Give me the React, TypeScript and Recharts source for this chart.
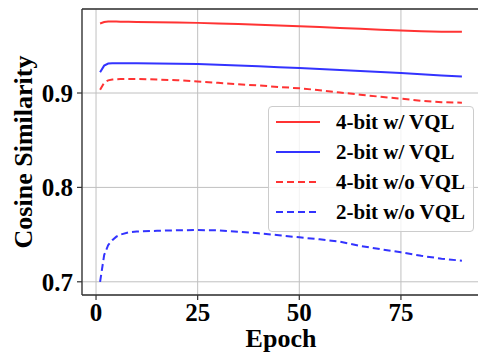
import React from 'react';
import { LineChart, Line, XAxis, YAxis, CartesianGrid, ReferenceLine } from 'recharts';

const epochs = [1, 2, 3, 4, 5, 6, 8, 10, 15, 20, 25, 30, 35, 40, 45, 50, 55, 60, 65, 70, 75, 80, 85, 90];
const bit4WithVQL = [0.9736, 0.9752, 0.9757, 0.9757, 0.9757, 0.9756, 0.9755, 0.9753, 0.975, 0.9747, 0.9743, 0.9737, 0.973, 0.9723, 0.9715, 0.9707, 0.9698, 0.9689, 0.968, 0.967, 0.9661, 0.9655, 0.965, 0.9648];
const bit2WithVQL = [0.9219, 0.929, 0.9312, 0.9315, 0.9316, 0.9316, 0.9315, 0.9314, 0.9312, 0.931, 0.9307, 0.93, 0.9292, 0.9283, 0.9274, 0.9265, 0.9255, 0.9244, 0.9233, 0.9222, 0.9212, 0.9198, 0.9186, 0.9176];
const bit4WithoutVQL = [0.9035, 0.911, 0.9134, 0.9142, 0.9146, 0.9148, 0.9149, 0.9148, 0.9143, 0.9135, 0.9123, 0.9108, 0.9093, 0.908, 0.9064, 0.905, 0.903, 0.9005, 0.8982, 0.896, 0.894, 0.8918, 0.8903, 0.8897];
const bit2WithoutVQL = [0.7, 0.7283, 0.739, 0.744, 0.7478, 0.75, 0.7524, 0.7532, 0.754, 0.7546, 0.7548, 0.7545, 0.753, 0.7514, 0.7493, 0.7471, 0.745, 0.7425, 0.738, 0.7345, 0.7312, 0.7275, 0.7245, 0.7223];

const xTicks = [0, 25, 50, 75];
const yTicks = [0.7, 0.8, 0.9];
const xDomain = [-3.45, 94.45];
const yDomain = [0.686, 0.989];

const series = [
  { key: 'a', name: '4-bit w/ VQL', values: bit4WithVQL, color: '#ff3333', dash: undefined },
  { key: 'b', name: '2-bit w/ VQL', values: bit2WithVQL, color: '#3333ff', dash: undefined },
  { key: 'c', name: '4-bit w/o VQL', values: bit4WithoutVQL, color: '#ff3333', dash: '7 4' },
  { key: 'd', name: '2-bit w/o VQL', values: bit2WithoutVQL, color: '#3333ff', dash: '7 4' },
];

const data = epochs.map((e, i) => {
  const row: Record<string, number> = { epoch: e };
  series.forEach((s) => {
    row[s.key] = s.values[i];
  });
  return row;
});

const FONT = '"Liberation Serif", "Times New Roman", serif';

const tickStyle = { fontSize: 25, fontWeight: 700, fill: '#000', fontFamily: FONT };

export default function App() {
  return (
    <div style={{ position: 'absolute', left: 0, top: 0, width: 478, height: 354, overflow: 'hidden', background: '#fff' }}>
      <LineChart
        width={500}
        height={354}
        data={data}
        margin={{ top: 9, right: 20, bottom: 0, left: 0 }}
      >
        <CartesianGrid stroke="#c0c0c0" strokeWidth={1} />
        <XAxis
          dataKey="epoch"
          type="number"
          domain={xDomain}
          ticks={xTicks}
          allowDataOverflow
          height={59}
          tickSize={5}
          tickMargin={3}
          tick={tickStyle}
          axisLine={{ stroke: '#333', strokeWidth: 1.3 }}
          tickLine={{ stroke: '#333', strokeWidth: 1.2 }}
          label={(props: any) => {
            const vb = props.viewBox;
            return (
              <text
                x={vb.x + vb.width / 2}
                y={347}
                textAnchor="middle"
                style={{ fontSize: 26, fontWeight: 700, fontFamily: FONT }}
                fill="#000"
              >
                Epoch
              </text>
            );
          }}
        />
        <YAxis
          type="number"
          domain={yDomain}
          ticks={yTicks}
          allowDataOverflow
          width={82}
          tickSize={5}
          tickMargin={4}
          tick={tickStyle}
          tickFormatter={(v: number) => v.toFixed(1)}
          axisLine={{ stroke: '#333', strokeWidth: 1.3 }}
          tickLine={{ stroke: '#333', strokeWidth: 1.2 }}
          label={(props: any) => {
            const vb = props.viewBox;
            const cy = vb.y + vb.height / 2;
            return (
              <text
                x={32}
                y={cy}
                textAnchor="middle"
                transform={`rotate(-90, 32, ${cy})`}
                style={{ fontSize: 26, fontWeight: 700, fontFamily: FONT }}
                fill="#000"
              >
                Cosine Similarity
              </text>
            );
          }}
        />
        <ReferenceLine y={yDomain[1]} stroke="#333" strokeWidth={1.3} ifOverflow="visible" />
        {series.map((s) => (
          <Line
            key={s.key}
            dataKey={s.key}
            name={s.name}
            type="linear"
            stroke={s.color}
            strokeWidth={2}
            strokeDasharray={s.dash}
            dot={false}
            activeDot={false}
            isAnimationActive={false}
          />
        ))}
      </LineChart>
      <div
        style={{
          position: 'absolute',
          left: 268,
          top: 106,
          width: 206,
          height: 126,
          border: '1px solid #cccccc',
          borderRadius: 4,
          background: 'rgba(255,255,255,0.8)',
          boxSizing: 'border-box',
        }}
      >
        <svg width={206} height={126} style={{ position: 'absolute', left: -1, top: -1 }}>
          {series.map((s, i) => {
            const y = 16 + i * 30;
            return (
              <g key={s.key}>
                <line x1={8} x2={52} y1={y} y2={y} stroke={s.color} strokeWidth={2} strokeDasharray={s.dash} />
                <text x={68} y={y + 7} style={{ fontSize: 21, fontWeight: 700, fontFamily: FONT }} fill="#000">
                  {s.name}
                </text>
              </g>
            );
          })}
        </svg>
      </div>
    </div>
  );
}
